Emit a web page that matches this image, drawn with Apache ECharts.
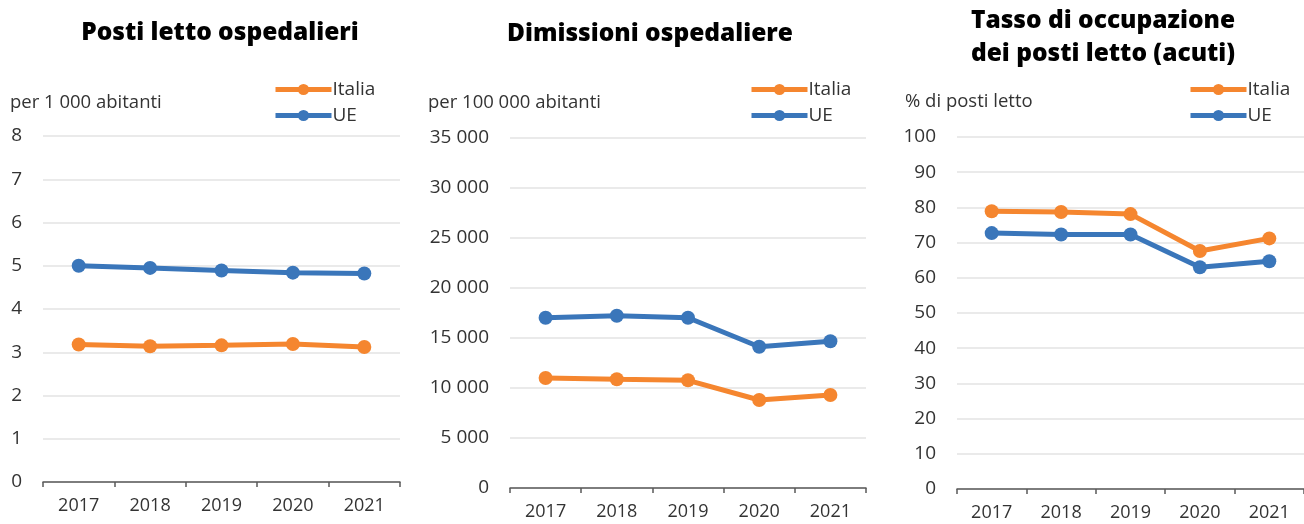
<!DOCTYPE html>
<html>
<head>
<meta charset="utf-8">
<script src="https://cdn.jsdelivr.net/npm/echarts@6/dist/echarts.min.js"></script>
<style>
  html, body { margin: 0; padding: 0; background: #fff; }
  #chart { width: 1304px; height: 524px; }
</style>
</head>
<body>
<div id="chart"></div>
<script>
// dati
const years = ['2017', '2018', '2019', '2020', '2021']
const seriesNames = ['Italia', 'UE']

const bedsItalia = [3.18, 3.14, 3.16, 3.19, 3.12]
const bedsUE = [5.0, 4.95, 4.89, 4.84, 4.82]

const dischItalia = [11000, 10870, 10770, 8800, 9300]
const dischUE = [17030, 17230, 17030, 14130, 14670]

const occItalia = [78.9, 78.7, 78.1, 67.6, 71.2]
const occUE = [72.7, 72.3, 72.3, 63.0, 64.7]

const titles = ['Posti letto ospedalieri', 'Dimissioni ospedaliere', 'Tasso di occupazione\ndei posti letto (acuti)']
const units = ['per 1 000 abitanti', 'per 100 000 abitanti', '% di posti letto']

const ORANGE = '#F5862F'
const BLUE = '#3A76BA'
const FONT = '"Open Sans", "Noto Sans", sans-serif'

const fmtThousands = (v) => String(v).replace(/\B(?=(\d{3})+(?!\d))/g, ' ')

const grids = [
  { left: 43, top: 136, width: 357, height: 346 },
  { left: 510, top: 138, width: 356, height: 350 },
  { left: 957, top: 137, width: 354, height: 352 }
]

const yAxes = [
  { min: 0, max: 8, interval: 1 },
  { min: 0, max: 35000, interval: 5000 },
  { min: 0, max: 100, interval: 10 }
]

const titleStyle = { fontSize: 24.5, fontWeight: 800, color: '#000', lineHeight: 33, fontFamily: FONT }
const unitStyle = { fontSize: 18.5, fontWeight: 'normal', color: '#333', fontFamily: FONT }

const makeSeries = (name, data, idx, color) => ({
  name: name,
  type: 'line',
  xAxisIndex: idx,
  yAxisIndex: idx,
  data: data,
  symbol: 'circle',
  symbolSize: 14,
  showSymbol: true,
  lineStyle: { color: color, width: 5 },
  itemStyle: { color: color },
  z: name === 'Italia' ? 3 : 2
})

const chart = echarts.init(document.getElementById('chart'))

chart.setOption({
  animation: false,
  textStyle: { fontFamily: FONT },
  title: [
    { text: titles[0], left: 220, top: 17, textAlign: 'center', padding: 0, textStyle: titleStyle },
    { text: titles[1], left: 650, top: 18, textAlign: 'center', padding: 0, textStyle: titleStyle },
    { text: titles[2], left: 1103, top: 5, textAlign: 'center', padding: 0, textStyle: titleStyle },
    { text: units[0], left: 10, top: 93, padding: 0, textStyle: unitStyle },
    { text: units[1], left: 428, top: 93, padding: 0, textStyle: unitStyle },
    { text: units[2], left: 905, top: 92, padding: 0, textStyle: unitStyle }
  ],
  legend: [273, 749, 1188].map((x) => ({
    data: seriesNames,
    orient: 'vertical',
    left: x,
    top: 80,
    padding: 0,
    itemWidth: 56,
    itemHeight: 14,
    itemGap: 7,
    selectedMode: false,
    lineStyle: { width: 5 },
    textStyle: { fontSize: 19, lineHeight: 14, color: '#333', padding: [0, 0, 0, -4], fontFamily: FONT }
  })),
  grid: grids,
  xAxis: grids.map((g, i) => ({
    type: 'category',
    gridIndex: i,
    data: years,
    boundaryGap: true,
    axisLine: { lineStyle: { color: '#595959', width: 1.5 } },
    axisTick: { show: true, length: 5, lineStyle: { color: '#595959', width: 1.5 } },
    axisLabel: { fontSize: 18, color: '#333', margin: 15, fontFamily: FONT },
    splitLine: { show: false }
  })),
  yAxis: yAxes.map((a, i) => ({
    type: 'value',
    gridIndex: i,
    min: a.min,
    max: a.max,
    interval: a.interval,
    axisLine: { show: false },
    axisTick: { show: false },
    axisLabel: { fontSize: 19, color: '#333', margin: 21, formatter: fmtThousands, fontFamily: FONT },
    splitLine: { lineStyle: { color: '#E3E3E3', width: 1.5 } }
  })),
  series: [
    makeSeries('UE', bedsUE, 0, BLUE),
    makeSeries('Italia', bedsItalia, 0, ORANGE),
    makeSeries('UE', dischUE, 1, BLUE),
    makeSeries('Italia', dischItalia, 1, ORANGE),
    makeSeries('UE', occUE, 2, BLUE),
    makeSeries('Italia', occItalia, 2, ORANGE)
  ]
})
</script>
</body>
</html>
